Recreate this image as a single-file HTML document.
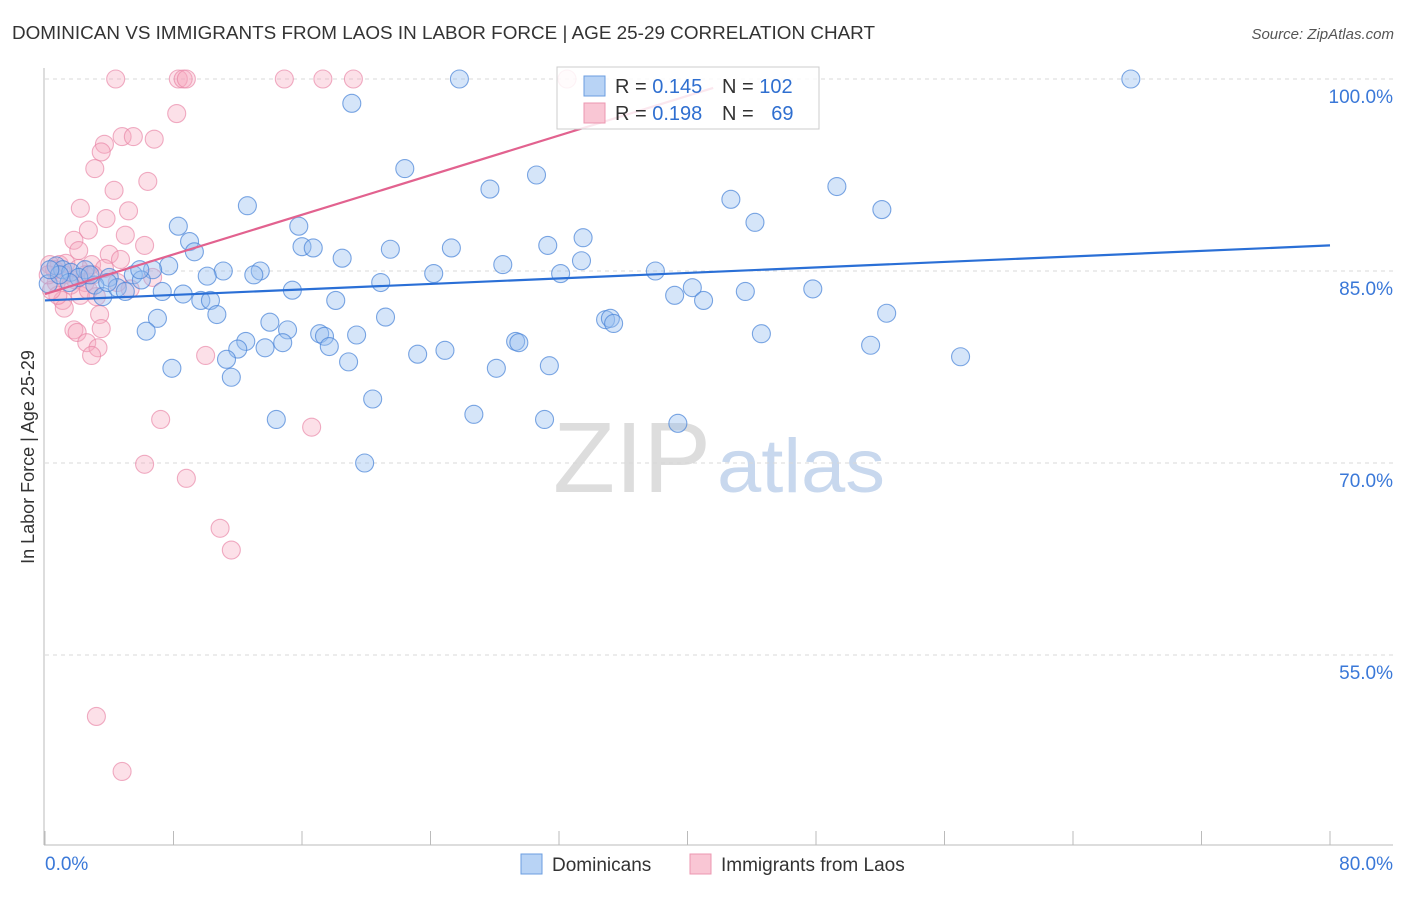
<!DOCTYPE html>
<html><head><meta charset="utf-8"><style>
body{margin:0;background:#fff;font-family:"Liberation Sans",sans-serif;}
svg text{font-family:"Liberation Sans",sans-serif;}
</style></head><body>
<svg id="chart" width="1406" height="892" xmlns="http://www.w3.org/2000/svg">
<text x="12" y="39" font-size="18" fill="#333" textLength="863" lengthAdjust="spacingAndGlyphs">DOMINICAN VS IMMIGRANTS FROM LAOS IN LABOR FORCE | AGE 25-29 CORRELATION CHART</text>
<text x="1394" y="39" font-size="15" fill="#555" text-anchor="end" font-style="italic">Source: ZipAtlas.com</text>
<g>
<text x="553" y="492" font-size="100" fill="#ddd" font-family="Liberation Serif" textLength="158" lengthAdjust="spacingAndGlyphs">ZIP</text>
<text x="717" y="492" font-size="76" fill="#c8d8ee" textLength="168" lengthAdjust="spacingAndGlyphs">atlas</text>
</g>
<g id="grid"></g>
<g id="axes"></g>
<g id="pts"></g>
<g id="trends"></g>
<g>
<rect x="557" y="67" width="262" height="62" fill="#fff" fill-opacity="0.85" stroke="#ccc"/>
<rect x="584" y="76" width="21" height="20" fill="#b8d3f5" stroke="#6b9ee0"/>
<rect x="584" y="103" width="21" height="20" fill="#f9c6d4" stroke="#ec97b0"/>
<text x="615" y="93" font-size="20" fill="#333">R = <tspan fill="#2f6fd0">0.145</tspan></text>
<text x="722" y="93" font-size="20" fill="#333">N = <tspan fill="#2f6fd0">102</tspan></text>
<text x="615" y="120" font-size="20" fill="#333">R = <tspan fill="#2f6fd0">0.198</tspan></text>
<text x="722" y="120" font-size="20" fill="#333">N = <tspan fill="#2f6fd0" dx="12">69</tspan></text>
</g>
<text transform="translate(34,457) rotate(-90)" font-size="18" fill="#333" text-anchor="middle">In Labor Force | Age 25-29</text>
<text x="45" y="870" font-size="19" fill="#3a78d8">0.0%</text>
<text x="1393" y="870" font-size="19" fill="#3a78d8" text-anchor="end">80.0%</text>
<g>
<rect x="521" y="854" width="21" height="20" fill="#b8d3f5" stroke="#6b9ee0"/>
<text x="552" y="871" font-size="19" fill="#333">Dominicans</text></g>
<g>
<rect x="690" y="854" width="21" height="20" fill="#f9c6d4" stroke="#ec97b0"/>
<text x="721" y="871" font-size="19" fill="#333">Immigrants from Laos</text></g>
</svg>
<script>
const yTicks=[100,85,70,55];
const yTickLabels=["100.0%","85.0%","70.0%","55.0%"];
const xTicks=[0,8,16,24,32,40,48,56,64,72,80];
const blueX=[25.8,67.6,19.1,22.4,30.6,27.7,49.3,42.7,52.1,12.6,44.2,8.3,15.8,9.0,33.5,31.3,25.3,21.5,9.3,18.5,16.0,16.7,28.5,33.4,7.7,38.0,32.1,24.2,13.4,11.1,13.0,10.1,6.7,5.5,4.0,6.0,20.9,15.4,7.3,8.6,9.7,10.3,18.1,40.3,39.2,41.0,43.6,47.8,10.7,21.2,7.0,14.0,15.1,6.3,17.1,17.4,19.4,34.9,35.2,35.4,52.4,44.6,29.3,29.5,12.5,12.0,13.7,14.8,17.7,11.3,23.2,24.9,18.9,51.4,57.0,7.9,28.1,31.4,11.6,20.4,26.7,31.1,14.4,39.4,19.9,0.7,1.1,1.6,2.5,3.1,3.6,4.5,5.0,2.1,1.5,0.2,0.9,2.8,3.9,0.3,5.9];
const blueY=[100,100,98.1,93.0,92.5,91.4,91.6,90.6,89.8,90.1,88.8,88.5,88.5,87.3,87.6,87.0,86.8,86.7,86.5,86.0,86.9,86.8,85.5,85.8,85.4,85.0,84.8,84.8,85.0,85.0,84.7,84.6,85.1,84.7,84.5,84.3,84.1,83.5,83.4,83.2,82.7,82.7,82.7,83.7,83.1,82.7,83.4,83.6,81.6,81.4,81.3,81.0,80.4,80.3,80.1,79.9,80.0,81.2,81.3,80.9,81.7,80.1,79.5,79.4,79.5,78.9,79.0,79.4,79.1,78.1,78.5,78.8,77.9,79.2,78.3,77.4,77.4,77.6,76.7,75.0,73.8,73.4,73.4,73.1,70.0,85.4,85.1,84.9,85.1,83.9,83.0,83.7,83.4,84.5,84.1,84.0,84.7,84.7,84.1,85.1,85.1];
const pinkX=[4.4,8.3,8.6,8.8,14.9,17.3,19.2,32.5,8.2,4.8,5.5,6.8,3.7,3.5,3.1,6.4,4.3,2.2,5.2,3.8,2.7,5.0,1.8,6.2,2.1,4.0,4.7,2.9,3.7,0.9,0.3,0.6,1.2,1.9,2.5,0.7,5.3,6.7,3.2,1.1,1.2,3.4,1.8,2.0,3.5,2.6,3.3,2.9,10.0,7.2,16.6,6.2,8.8,10.9,11.6,3.2,4.8,1.6,2.2,2.7,0.8,0.4,1.3,2.1,2.5,3.0,4.5,0.2];
const pinkY=[100,100,100,100,100,100,100,100,97.3,95.5,95.5,95.3,94.9,94.3,93.0,92.0,91.3,89.9,89.7,89.1,88.2,87.8,87.4,87.0,86.6,86.3,85.9,85.5,85.2,85.5,85.5,85.1,84.7,84.3,84.1,84.1,83.6,84.5,83.0,82.7,82.1,81.6,80.4,80.2,80.5,79.4,79.0,78.4,78.4,73.4,72.8,69.9,68.8,64.9,63.2,50.2,45.9,83.9,83.1,83.5,83.1,83.5,85.6,85.2,84.7,84.7,84.1,84.7];
const blueTrend=[[0,82.7],[80,87.0]];
const pinkTrend=[[0,83.2],[41.6,99.3]];
const NS="http://www.w3.org/2000/svg";
const sx=v=>45+v/80*1285;
const sy=v=>79+(100-v)/15*192;
function mk(tag,attrs,parent){const e=document.createElementNS(NS,tag);for(const k in attrs)e.setAttribute(k,attrs[k]);parent.appendChild(e);return e;}
const grid=document.getElementById('grid'),axes=document.getElementById('axes'),pts=document.getElementById('pts'),tr=document.getElementById('trends');
yTicks.forEach((t,i)=>{
 const l=mk('line',{x1:45,x2:1393,y1:sy(t),y2:sy(t),stroke:'#d8d8d8','stroke-dasharray':'4,4'},grid);
 
 
 const tx=mk('text',{x:1393,y:sy(t)+24,'font-size':19,fill:'#3a78d8','text-anchor':'end'},grid);
 tx.textContent=yTickLabels[i];
 
 
});
const ya=mk('line',{x1:44,x2:44,y1:68,y2:845,stroke:'#bbb'},axes);


const xa=mk('line',{x1:44,x2:1393,y1:845,y2:845,stroke:'#bbb'},axes);


xTicks.forEach(t=>{
 const l=mk('line',{x1:sx(t),x2:sx(t),y1:831,y2:845,stroke:'#bbb'},axes);
 
 
});
function dots(X,Y,fill,stroke,name){
 X.forEach((x,i)=>{
  const c=mk('circle',{cx:sx(x),cy:sy(Y[i]),r:9,fill:fill,stroke:stroke,'stroke-width':1.1},pts);
  
  
 });
}
dots(pinkX,pinkY,'rgba(245,165,190,0.35)','rgba(232,130,165,0.65)','laos-point');
dots(blueX,blueY,'rgba(150,190,240,0.4)','rgba(70,130,215,0.7)','dominican-point');
const bl=mk('line',{x1:sx(blueTrend[0][0]),y1:sy(blueTrend[0][1]),x2:sx(blueTrend[1][0]),y2:sy(blueTrend[1][1]),stroke:'#2a6fd6','stroke-width':2.2},tr);


const pl=mk('line',{x1:sx(pinkTrend[0][0]),y1:sy(pinkTrend[0][1]),x2:sx(pinkTrend[1][0]),y2:sy(pinkTrend[1][1]),stroke:'#e2628f','stroke-width':2.2},tr);


</script>
</body></html>
